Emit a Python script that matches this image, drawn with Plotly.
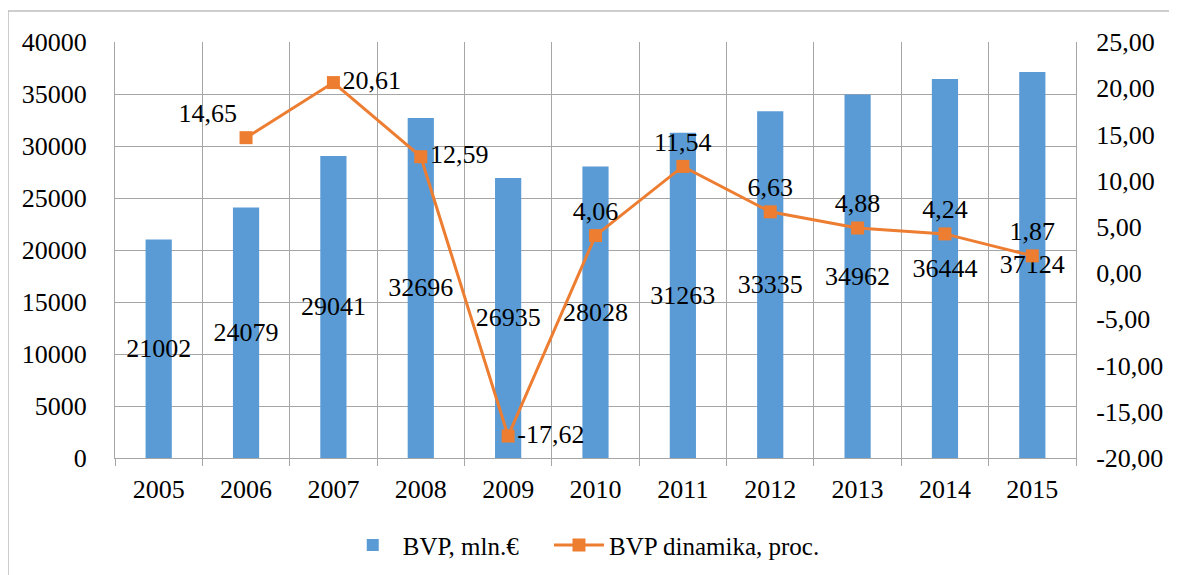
import plotly.graph_objects as go

years = ["2005", "2006", "2007", "2008", "2009", "2010", "2011", "2012", "2013", "2014", "2015"]
bvp = [21002, 24079, 29041, 32696, 26935, 28028, 31263, 33335, 34962, 36444, 37124]
dyn = [None, 14.65, 20.61, 12.59, -17.62, 4.06, 11.54, 6.63, 4.88, 4.24, 1.87]
right_tickvals = [-20, -15, -10, -5, 0, 5, 10, 15, 20, 25]
right_ticktext = ["-20,00", "-15,00", "-10,00", "-5,00", "0,00", "5,00", "10,00", "15,00", "20,00", "25,00"]
left_tickvals = [0, 5000, 10000, 15000, 20000, 25000, 30000, 35000, 40000]
left_ticktext = ["0", "5000", "10000", "15000", "20000", "25000", "30000", "35000", "40000"]
dyn_textpos = ["top center", "top left", "middle right", "middle right", "middle right",
               "top center", "top center", "top center", "top center", "top center", "top center"]

FONT = "Liberation Serif, Times New Roman, serif"
FS = 26
GRID = "#a6a6a6"

def fmt(v):
    return "" if v is None else f"{v:.2f}".replace(".", ",")

fig = go.Figure()
fig.add_trace(go.Bar(
    x=years, y=bvp, name="BVP, mln.€", legend="legend",
    marker=dict(color="#5b9bd5", line=dict(width=0)),
    width=0.3,
    text=[str(v) for v in bvp], textposition="inside", insidetextanchor="middle",
    textangle=0, constraintext="none",
    textfont=dict(family=FONT, size=FS, color="black"),
    cliponaxis=False,
))
fig.add_trace(go.Scatter(
    x=years, y=dyn, name="BVP dinamika, proc.", yaxis="y2", legend="legend2",
    mode="lines+markers+text",
    line=dict(color="#ed7d31", width=3),
    marker=dict(symbol="square", size=13, color="#ed7d31"),
    text=[fmt(v) for v in dyn], textposition=dyn_textpos,
    textfont=dict(family=FONT, size=FS, color="black"),
    cliponaxis=False,
))

leg_common = dict(orientation="h", xanchor="left", y=-0.21, yanchor="middle",
                  font=dict(family=FONT, size=25), itemwidth=50, bgcolor="rgba(0,0,0,0)")

fig.update_layout(
    width=1169, height=567,
    margin=dict(l=107, r=101, t=34, b=117, autoexpand=False),
    paper_bgcolor="white", plot_bgcolor="white",
    font=dict(family=FONT, size=FS, color="black"),
    showlegend=True,
    legend=dict(x=0.237, **leg_common),
    legend2=dict(x=0.4516, **leg_common),
    xaxis=dict(type="category", range=[-0.5, 10.5], tickson="boundaries", showgrid=True,
               gridcolor=GRID, gridwidth=1,
               ticks="outside", ticklen=7, tickcolor=GRID, showline=True, linecolor=GRID,
               tickfont=dict(family=FONT, size=FS), ticklabelstandoff=8, zeroline=False,
               automargin=False),
    yaxis=dict(range=[0, 40000], tickvals=left_tickvals, ticktext=left_ticktext,
               showgrid=True, gridcolor=GRID, gridwidth=1, showline=True, linecolor=GRID,
               ticks="", ticklabelstandoff=22, zeroline=False, automargin=False,
               tickfont=dict(family=FONT, size=FS)),
    yaxis2=dict(range=[-20, 25], tickvals=right_tickvals, ticktext=right_ticktext,
                overlaying="y", side="right", showgrid=False, showline=True, linecolor=GRID,
                ticks="", ticklabelstandoff=14, zeroline=False, automargin=False,
                tickfont=dict(family=FONT, size=FS)),
    shapes=[dict(type="rect", xref="paper", yref="paper",
                 x0=-0.1113, x1=1.3, y0=-0.6, y1=1.0745,
                 line=dict(color="#bfbfbf", width=1.5), layer="below")],
)

fig.write_html("out.html")
